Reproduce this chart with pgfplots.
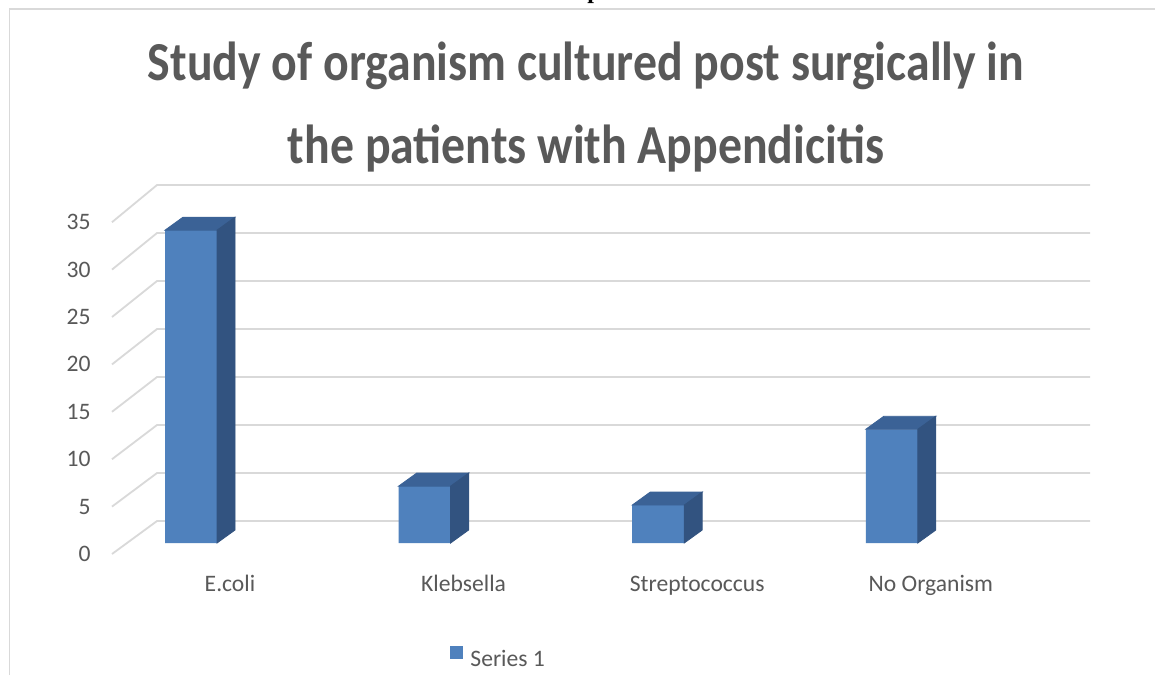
\documentclass[border=0pt]{standalone}
\usepackage{pgfplots}
\pgfplotsset{compat=1.18}
\usepackage{pgfplotstable}
\usepackage{fontspec}
\setmainfont{Carlito}
\newfontfamily\serifb{Liberation Serif}
\definecolor{frontc}{HTML}{4F81BD}
\definecolor{sidec}{HTML}{325380}
\definecolor{topc}{HTML}{3B6296}
\definecolor{gridc}{HTML}{D9D9D9}
\definecolor{txt}{HTML}{595959}
\pgfdeclareplotmark{emptymark}{}
\pgfplotstableread{
x v
0 33
1 6
2 4
3 12
}\orgdata
\begin{document}
\begin{tikzpicture}
\useasboundingbox (0pt,0pt) rectangle (577.5pt,-337.5pt);
\fill[white] (0pt,0pt) rectangle (577.5pt,-337.5pt);
\node[anchor=base west, inner sep=0pt, font=\serifb\bfseries\fontsize{12}{14}\selectfont] at (293.5pt,0.95pt) {p};
\draw[gridc, line width=0.75pt] (4.75pt,-337.5pt) -- (4.75pt,-4.5pt) -- (577.5pt,-4.5pt);
\node[anchor=base, inner sep=0pt, text=txt, font=\fontsize{23.9}{28}\selectfont\bfseries] at (293pt,-40pt) {\scalebox{1}[1.15]{Study of organism cultured post surgically in}};
\node[anchor=base, inner sep=0pt, text=txt, font=\fontsize{23.9}{28}\selectfont\bfseries] at (293pt,-81.5pt) {\scalebox{1}[1.15]{the patients with Appendicitis}};
\begin{axis}[
  at={(56pt,-277pt)}, anchor=south west,
  x=116.8pt, y=4.74pt,
  xmin=-0.274, xmax=3.913, ymin=-1.16, ymax=38,
  clip=false,
  axis line style={draw=none},
  major tick length=0pt,
  xtick={0,1,2,3},
  xticklabels={E.coli,Klebsella,Streptococcus,No Organism},
  ytick={-1.16,3.84,8.84,13.84,18.84,23.84,28.84,33.84},
  yticklabels={0,5,10,15,20,25,30,35},
  tick label style={font=\fontsize{11.8}{14}\selectfont, text=txt, inner sep=0pt},
  xticklabel style={anchor=base, xshift=27pt, yshift=-18.5pt},
  yticklabel style={anchor=east, xshift=-10.5pt},
  legend style={draw=none, fill=none, at={(axis cs:1.173,-12.13)}, anchor=west,
    font=\fontsize{11.8}{14}\selectfont, text=txt, inner sep=0pt, column sep=3.5pt,
    nodes={inner sep=0pt}},
]
\pgfplotsinvokeforeach{0,...,7}{
  \draw[gridc, line width=0.9pt] (axis cs:-0.274,{-1.16+5*#1}) -- (axis cs:-0.0813,{2.321+5.063*#1}) -- (axis cs:3.913,{2.321+5.063*#1});
}
\addplot[ybar, bar width=26pt, bar shift=7.5pt, fill=frontc, draw=none,
  legend image code/.code={\fill[frontc] (0pt,0.5pt) rectangle (6.5pt,7pt);}]
  table[x=x,y=v] {\orgdata};
\addlegendentry{Series 1}
\addplot[forget plot, only marks, mark=emptymark, scatter,
  visualization depends on={\thisrow{v} \as \val},
  scatter/@pre marker code/.code={
    \fill[topc] (-5.5pt,0pt) -- (20.5pt,0pt) -- (29.5pt,6.5pt) -- (3.5pt,6.5pt) -- cycle;
    \fill[sidec] (20.5pt,0pt) -- (29.5pt,6.5pt) -- (29.5pt,{6.5pt-\val*4.74pt}) -- (20.5pt,{-\val*4.74pt}) -- cycle;
  },
  scatter/@post marker code/.code={}
] table[x=x,y=v] {\orgdata};
\end{axis}
\end{tikzpicture}
\end{document}
